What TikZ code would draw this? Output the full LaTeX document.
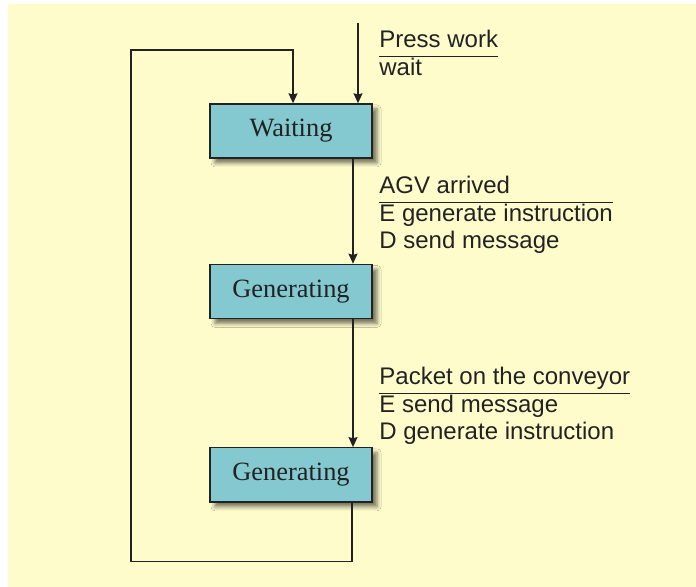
\documentclass[tikz,border=0pt]{standalone}
\usepackage{xcolor}
\usepackage{tikz}
\usepackage{fontspec}
\setmainfont{Liberation Serif}
\setsansfont{Liberation Sans}
\usetikzlibrary{arrows.meta, positioning, calc, shadows, shadows.blur}
\definecolor{bgyellow}{RGB}{255,252,204}
\definecolor{boxteal}{RGB}{132,200,208}
\definecolor{ink}{RGB}{34,34,34}
\tikzstyle{state} = [rectangle, draw=ink, fill=boxteal, line width=0.7pt, minimum width=81pt, minimum height=27pt, font=\fontsize{13.2}{15}\selectfont, text=ink, blur shadow={shadow xshift=2.5pt, shadow yshift=-2.5pt, shadow blur radius=2pt, shadow opacity=55}]
\tikzstyle{cond} = [inner sep=0pt, anchor=base west, font=\sffamily\fontsize{12}{13.5}\selectfont, text=ink]
\tikzstyle{arrow} = [draw=ink, line width=0.7pt, -{Stealth[length=5pt, width=4.5pt, inset=0.6pt]}]

\begin{document}
\begin{tikzpicture}[x=0.5pt, y=-0.5pt]
    \useasboundingbox (0,0) rectangle (696,587);
    \fill [white] (0,0) rectangle (696,587);
    \fill [bgyellow] (8,4) rectangle (696,587);

    \node (waiting) [state] at (291,131) {Waiting};
    \node (gen1) [state, below=52.5pt of waiting] {Generating};
    \node (gen2) [state, below=64pt of gen1] {Generating};
    \coordinate (start) at (358,23);

    \node (c1) [cond] at (379,48) {\begin{tabular}[t]{@{}l@{}}Press work\\\hline wait\end{tabular}};
    \node (c2) [cond] at (379,194) {\begin{tabular}[t]{@{}l@{}}AGV arrived\\\hline E generate instruction\\D send message\end{tabular}};
    \node (c3) [cond] at (379,385) {\begin{tabular}[t]{@{}l@{}}Packet on the conveyor\\\hline E send message\\D generate instruction\end{tabular}};

    \draw [arrow] (start) -- (start |- waiting.north);
    \draw [arrow] ([xshift=31pt]waiting.south) -- ([xshift=31pt]gen1.north);
    \draw [arrow] ([xshift=31pt]gen1.south) -- ([xshift=31pt]gen2.north);
    \draw [arrow] ([xshift=30.5pt]gen2.south) -- ++(0,59) -| (131,50) -| ([xshift=1pt]waiting.north);
\end{tikzpicture}
\end{document}
